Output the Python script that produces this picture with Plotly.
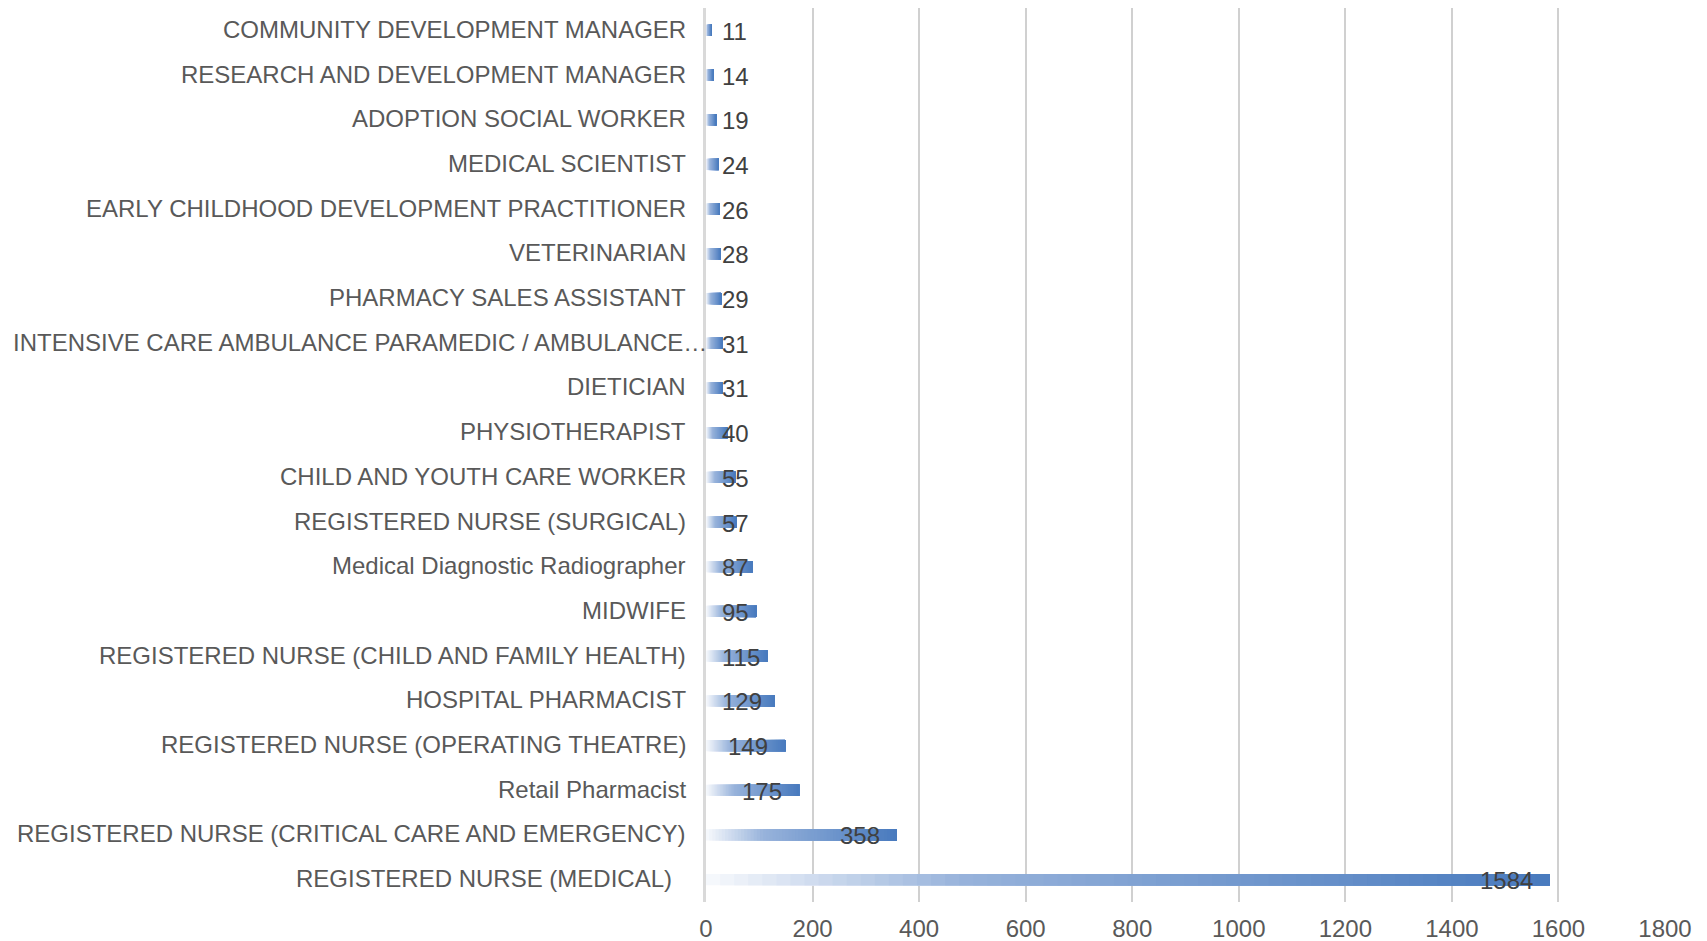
import plotly.graph_objects as go

# categories listed bottom -> top, as drawn
jobs = [
    "REGISTERED NURSE (MEDICAL)",
    "REGISTERED NURSE (CRITICAL CARE AND EMERGENCY)",
    "Retail Pharmacist",
    "REGISTERED NURSE (OPERATING THEATRE)",
    "HOSPITAL PHARMACIST",
    "REGISTERED NURSE (CHILD AND FAMILY HEALTH)",
    "MIDWIFE",
    "Medical Diagnostic Radiographer",
    "REGISTERED NURSE (SURGICAL)",
    "CHILD AND YOUTH CARE WORKER",
    "PHYSIOTHERAPIST",
    "DIETICIAN",
    "INTENSIVE CARE AMBULANCE PARAMEDIC / AMBULANCE\u2026",
    "PHARMACY SALES ASSISTANT",
    "VETERINARIAN",
    "EARLY CHILDHOOD DEVELOPMENT PRACTITIONER",
    "MEDICAL SCIENTIST",
    "ADOPTION SOCIAL WORKER",
    "RESEARCH AND DEVELOPMENT MANAGER",
    "COMMUNITY DEVELOPMENT MANAGER",
]
counts = [1584, 358, 175, 149, 129, 115, 95, 87, 57, 55, 40, 31, 31, 29, 28, 26, 24, 19, 14, 11]

# the page body has an 8px margin, so the figure is sized to fit the window
W, H = 1699, 933
ml, mr, mt, mb = 698, 42, 0, 39
xmax = 1800
px_per_unit = (W - ml - mr) / xmax
fs = 24

# gradient: white at the bar's base to blue at its end
stops = [(0.0, (248, 250, 253)), (0.3, (152, 179, 219)), (1.0, (72, 122, 190))]


def grad(t):
    for (t0, c0), (t1, c1) in zip(stops[:-1], stops[1:]):
        if t <= t1:
            f = (t - t0) / (t1 - t0)
            return "rgb(%d,%d,%d)" % tuple(round(a + (b - a) * f) for a, b in zip(c0, c1))
    return "rgb(%d,%d,%d)" % stops[-1][1]


# each layer runs from a later start to the bar end, painted over the previous one
n = 60
fig = go.Figure()
for k in range(n):
    fig.add_trace(go.Bar(
        y=jobs, x=[v * (n - k) / n for v in counts], base=[v * k / n for v in counts],
        orientation="h", width=0.25, marker=dict(color=grad((k + 0.5) / n), line_width=0),
        showlegend=False, hoverinfo="skip"))

# category labels (the truncated one runs up to the axis, the first sits a bit further left)
for name in jobs:
    shift = -18
    if name.endswith("\u2026"):
        shift = 3
    elif name == jobs[0]:
        shift = -32
    fig.add_annotation(x=0, y=name, text=name, showarrow=False, xanchor="right", xshift=shift,
                       yshift=1, font=dict(size=fs, color="#595959"))

# value labels: inside the bar end, pushed out past the axis when the bar is short
for name, v in zip(jobs, counts):
    w = len(str(v)) * 0.556 * fs
    if v * px_per_unit - 16 - w < 15:
        fig.add_annotation(x=0, y=name, text=str(v), showarrow=False, xanchor="left", xshift=14,
                           yshift=-1, font=dict(size=fs, color="#404040"))
    else:
        fig.add_annotation(x=v, y=name, text=str(v), showarrow=False, xanchor="right", xshift=-15,
                           yshift=-1, font=dict(size=fs, color="#404040"))

fig.update_layout(
    width=W, height=H,
    margin=dict(l=ml, r=mr, t=mt, b=mb),
    barmode="overlay",
    plot_bgcolor="white", paper_bgcolor="white",
    font=dict(family="Liberation Sans, Arial, sans-serif", size=fs, color="#595959"),
    xaxis=dict(range=[0, xmax], dtick=200, showgrid=True, gridcolor="#d0d0d0", gridwidth=1.5,
               zeroline=False, ticks="", ticklabelstandoff=10, automargin=False, fixedrange=True),
    yaxis=dict(showline=True, linecolor="#d9d9d9", linewidth=3, showgrid=False, ticks="",
               showticklabels=False, categoryorder="array", categoryarray=jobs,
               automargin=False, fixedrange=True),
)

fig.write_html("out.html")
